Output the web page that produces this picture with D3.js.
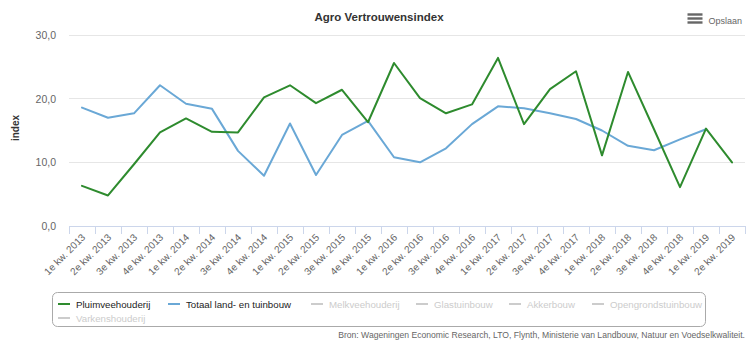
<!DOCTYPE html>
<html><head><meta charset="utf-8">
<script src="https://cdn.jsdelivr.net/npm/d3@7"></script>
<style>body{margin:0;background:#fff}svg{display:block;font-family:"Liberation Sans",Arial,sans-serif}</style>
</head><body><svg id="c" width="750" height="345"></svg>
<script>
const categories = ["1e kw. 2013","2e kw. 2013","3e kw. 2013","4e kw. 2013","1e kw. 2014","2e kw. 2014","3e kw. 2014","4e kw. 2014","1e kw. 2015","2e kw. 2015","3e kw. 2015","4e kw. 2015","1e kw. 2016","2e kw. 2016","3e kw. 2016","4e kw. 2016","1e kw. 2017","2e kw. 2017","3e kw. 2017","4e kw. 2017","1e kw. 2018","2e kw. 2018","3e kw. 2018","4e kw. 2018","1e kw. 2019","2e kw. 2019"];
const pluimvee = [6.3,4.8,9.7,14.7,16.9,14.8,14.7,20.2,22.1,19.3,21.4,16.3,25.6,20.1,17.7,19.1,26.4,16.0,21.5,24.3,11.1,24.2,15.2,6.1,15.3,10.0];
const totaal = [18.6,17.0,17.7,22.1,19.2,18.4,11.8,7.9,16.1,8.0,14.3,16.5,10.8,10.0,12.2,16.0,18.8,18.5,17.7,16.8,15.0,12.6,11.9,13.6,15.2,null];
const yTicks = [0,10,20,30];
const legendNames = ["Pluimveehouderij","Totaal land- en tuinbouw","Melkveehouderij","Glastuinbouw","Akkerbouw","Opengrondstuinbouw","Varkenshouderij"];
const legendActive = [true,true,false,false,false,false,false];

const svg = d3.select("#c");
const L = 69, R = 745, T = 35, B = 226;
const x = d3.scaleBand().domain(categories).range([L, R]);
const y = d3.scaleLinear().domain([0, 30]).range([B, T]);
const colors = {"Pluimveehouderij":"#2e8b2e","Totaal land- en tuinbouw":"#6aa8d6"};

// title
svg.append("text").attr("x", 379).attr("y", 21).attr("text-anchor","middle")
  .attr("font-size", 11.5).attr("font-weight","bold").attr("fill","#333").text("Agro Vertrouwensindex");

// menu
const mg = svg.append("g");
[14.5,18.5,22.5].forEach(v=>mg.append("rect").attr("x",687.5).attr("y",v-1.2).attr("width",15).attr("height",2.4).attr("fill","#666"));
svg.append("text").attr("x",708.5).attr("y",23.5).attr("font-size",9).attr("fill","#666").text("Opslaan");

// grid
svg.append("g").selectAll("line").data(yTicks.filter(d=>d>0)).join("line")
  .attr("x1",L).attr("x2",R).attr("y1",d=>y(d)).attr("y2",d=>y(d))
  .attr("stroke","#e6e6e6").attr("stroke-width",1).attr("shape-rendering","crispEdges");

// y axis labels
const fmt = d => d3.format(".1f")(d).replace(".", ",");
svg.append("g").selectAll("text").data(yTicks).join("text")
  .attr("x",56).attr("y",d=>y(d)+4).attr("text-anchor","end")
  .attr("font-size",10.5).attr("fill","#666").text(fmt);

svg.append("text").attr("transform","translate(19,128) rotate(-90)").attr("text-anchor","middle")
  .attr("font-size",10).attr("font-weight","bold").attr("fill","#333").text("index");

// x axis
const xa = svg.append("g").attr("transform",`translate(0,${B})`)
  .call(d3.axisBottom(x).tickSize(0).tickFormat(""));
xa.select(".domain").attr("stroke","#ccd6eb");
const bounds = categories.map(c=>x(c)).concat([R]);
xa.append("g").selectAll("line").data(bounds).join("line")
  .attr("x1",d=>Math.round(d)+0.5).attr("x2",d=>Math.round(d)+0.5).attr("y1",0).attr("y2",8)
  .attr("stroke","#ccd6eb");
svg.append("g").selectAll("text").data(categories).join("text")
  .attr("transform",d=>`translate(${x(d)+x.bandwidth()/2+4},${B+12}) rotate(-45)`)
  .attr("text-anchor","end").attr("font-size",10).attr("fill","#666").text(d=>d);

// lines
const line = d3.line().defined(d=>d.v!=null).x(d=>x(d.c)+x.bandwidth()/2).y(d=>y(d.v));
[["Pluimveehouderij",pluimvee],["Totaal land- en tuinbouw",totaal]].reverse().forEach(([n,vals])=>{
  svg.append("path").datum(vals.map((v,i)=>({c:categories[i],v})))
    .attr("d",line).attr("fill","none").attr("stroke",colors[n]).attr("stroke-width",2)
    .attr("stroke-linejoin","round").attr("stroke-linecap","round");
});

// legend
svg.append("rect").attr("x",52.5).attr("y",292.5).attr("width",653).attr("height",34).attr("rx",5)
  .attr("fill","none").attr("stroke","#aaa");
const legPos = [[58,304],[168,304],[311,304],[416,304],[509,304],[592,304],[58,318]];
legendNames.forEach((n,i)=>{
  const [lx,ly] = legPos[i];
  const col = legendActive[i] ? colors[n] : "#ccc";
  svg.append("line").attr("x1",lx).attr("x2",lx+12).attr("y1",ly).attr("y2",ly).attr("stroke",col).attr("stroke-width",2);
  svg.append("text").attr("x",lx+18).attr("y",ly+3.5).attr("font-size",9.7)
    .attr("fill",legendActive[i]?"#222":"#ccc").text(n);
});

svg.append("text").attr("x",745).attr("y",338).attr("text-anchor","end").attr("font-size",8.6)
  .attr("fill","#666").text("Bron: Wageningen Economic Research, LTO, Flynth, Ministerie van Landbouw, Natuur en Voedselkwaliteit.");
</script></body></html>
